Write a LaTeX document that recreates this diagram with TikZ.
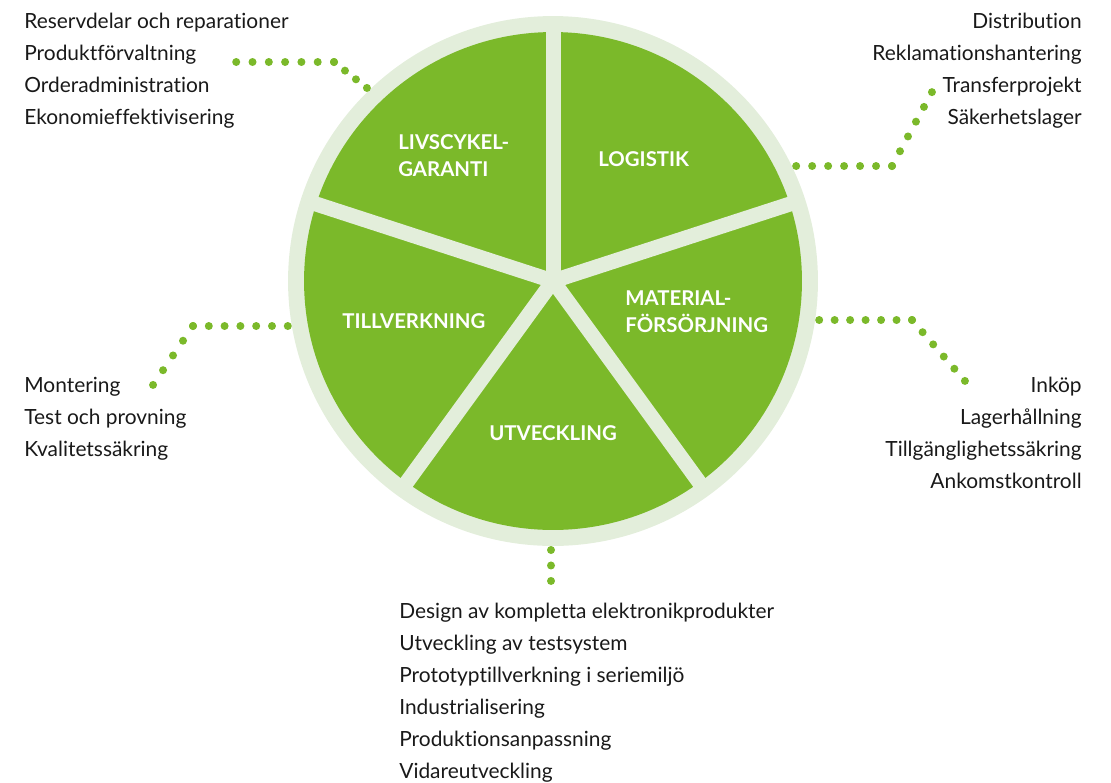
\documentclass[tikz,border=0pt]{standalone}
\usepackage{fontspec}
\setmainfont{Lato}[Ligatures=NoCommon]
\usepackage{tikz}
\usepackage{xcolor}
\definecolor{leaf}{HTML}{7BB92A}
\definecolor{pale}{HTML}{E3EEDB}
\tikzset{
  item/.style={inner sep=0pt, text=black!90, font=\fontsize{11.9}{13}\selectfont},
  slice/.style={inner sep=0pt, text=white, align=left, font=\bfseries\fontsize{11.6}{15.3}\selectfont},
  dotrow/.style={draw=leaf, line width=0.16cm, line cap=round, dash pattern=on 0pt off #1},
  gapline/.style={draw=pale, line width=0.3cm}
}

\begin{document}
\begin{tikzpicture}[x=0.02cm, y=-0.02cm]
        \useasboundingbox (0,0) rectangle (1111,782);
        % pie
        \coordinate (c) at (553,281);
        \fill[pale] (c) circle (5.3cm);
        \fill[leaf] (c) circle (4.98cm);
        \foreach \a in {90,18,-54,-126,162}
            \draw[gapline] (c) -- ++(\a:5.1cm);
        % slice labels
        \node[slice, anchor=west] (lvs) at (398,156) {LIVSCYKEL-\\GARANTI};
        \node[slice, anchor=base west] (log) at (598,166) {LOGISTIK};
        \node[slice, anchor=west] (mat) at (625,312) {MATERIAL-\\FÖRSÖRJNING};
        \node[slice, anchor=base west] (till) at (342,328) {TILLVERKNING};
        \node[slice, anchor=base] (utv) at (553,440) {UTVECKLING};
        % lists
        \foreach \t [count=\i] in {Reservdelar och reparationer, Produktförvaltning, Orderadministration, Ekonomieffektivisering}
            \node[item, anchor=base west] (lvs-\i) at (24,-4+32*\i) {\t};
        \foreach \t [count=\i] in {Distribution, Reklamationshantering, Transferprojekt, Säkerhetslager}
            \node[item, anchor=base east] (log-\i) at (1082,-4+32*\i) {\t};
        \foreach \t [count=\i] in {Montering, Test och provning, Kvalitetssäkring}
            \node[item, anchor=base west] (till-\i) at (24,360+32*\i) {\t};
        \foreach \t [count=\i] in {Inköp, Lagerhållning, Tillgänglighetssäkring, Ankomstkontroll}
            \node[item, anchor=base east] (mat-\i) at (1082,360+32*\i) {\t};
        \foreach \t [count=\i] in {Design av kompletta elektronikprodukter, Utveckling av testsystem, Prototyptillverkning i seriemiljö, Industrialisering, Produktionsanpassning, Vidareutveckling}
            \node[item, anchor=base west] (utv-\i) at (399,586+32*\i) {\t};
        % dotted links
        \coordinate (lvs-a) at (367,88);  \coordinate (lvs-b) at (334,62);  \coordinate (lvs-c) at (236,62);
        \coordinate (log-a) at (796,166); \coordinate (log-b) at (892,166); \coordinate (log-c) at (932,92);
        \coordinate (till-a) at (288,326); \coordinate (till-b) at (193,326); \coordinate (till-c) at (153,385);
        \coordinate (mat-a) at (819,320); \coordinate (mat-b) at (912,320); \coordinate (mat-c) at (965,381);
        \coordinate (utv-a) at (551,550); \coordinate (utv-b) at (551,581);
        \draw[dotrow=0.2795cm] (lvs-b) -- (lvs-a);
        \draw[dotrow=0.326cm] (lvs-b) -- (lvs-c);
        \draw[dotrow=0.3195cm] (log-b) -- (log-a);
        \draw[dotrow=0.336cm] (log-b) -- (log-c);
        \draw[dotrow=0.316cm] (till-b) -- (till-a);
        \draw[dotrow=0.356cm] (till-b) -- (till-c);
        \draw[dotrow=0.3095cm] (mat-b) -- (mat-a);
        \draw[dotrow=0.3228cm] (mat-b) -- (mat-c);
        \draw[dotrow=0.3095cm] (utv-a) -- (utv-b);
    \end{tikzpicture}
\end{document}
